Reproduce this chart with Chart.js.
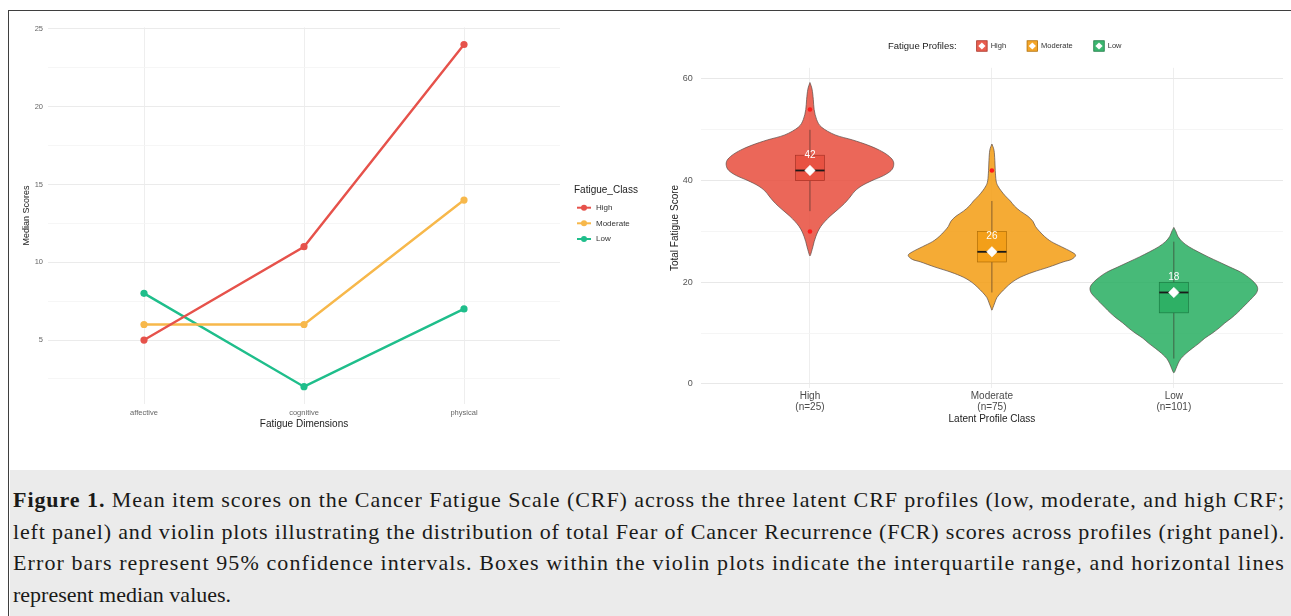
<!DOCTYPE html>
<html>
<head>
<meta charset="utf-8">
<title>Fatigue profiles</title>
<script src="https://cdn.jsdelivr.net/npm/chart.js@4.4.1/dist/chart.umd.min.js"></script>
<style>
  html, body { margin: 0; padding: 0; background: #ffffff; }
  #fig { position: relative; width: 1291px; height: 616px; overflow: hidden; background: #ffffff; }
  #frame { position: absolute; left: 8px; top: 10px; width: 1300px; height: 620px;
           border-left: 1.6px solid #3f3f3f; border-top: 1.6px solid #3f3f3f;
           box-sizing: border-box; pointer-events: none; z-index: 3; }
  #leftChart { position: absolute; left: 0; top: 0; }
  #rightChart { position: absolute; left: 660px; top: 0; }
  #caption { position: absolute; left: 10px; top: 470px; width: 1281px; height: 146px;
             background: #ebebeb; box-sizing: border-box; padding: 14px 6px 0 3px;
             font-family: 'Liberation Serif', 'Times New Roman', serif; font-size: 22px;
             line-height: 31.7px; color: #1a1a18; }
  #caption .ln { white-space: nowrap; overflow: visible; }
  #caption .ln span { display: inline-block; }
</style>
</head>
<body>
<div id="fig">
  <canvas id="leftChart" width="660" height="440"></canvas>
  <canvas id="rightChart" width="631" height="440"></canvas>
  <div id="frame"></div>
  <div id="caption">
    <div class="ln fit"><span><b>Figure 1.</b> Mean item scores on the Cancer Fatigue Scale (CRF) across the three latent CRF profiles (low, moderate, and high CRF;</span></div>
    <div class="ln fit"><span>left panel) and violin plots illustrating the distribution of total Fear of Cancer Recurrence (FCR) scores across profiles (right panel).</span></div>
    <div class="ln fit"><span>Error bars represent 95% confidence intervals. Boxes within the violin plots indicate the interquartile range, and horizontal lines</span></div>
    <div class="ln"><span>represent median values.</span></div>
  </div>
</div>
<script>
// ---------- Left panel: median scores per fatigue dimension ----------
const dimensions = ['affective', 'cognitive', 'physical'];
const fatigueClasses = ['High', 'Moderate', 'Low'];
const highMedians = [5, 11, 24];
const moderateMedians = [6, 6, 14];
const lowMedians = [8, 2, 7];
const medianTickValues = [2.5, 5, 7.5, 10, 12.5, 15, 17.5, 20, 22.5, 25];

// ---------- Right panel: total fatigue score by latent profile ----------
const profiles = ['High', 'Moderate', 'Low'];
const profileCounts = [25, 75, 101];
const scoreTickValues = [0, 10, 20, 30, 40, 50, 60];
const boxQ1 = [40, 24, 14];
const boxMedian = [42, 26, 18];
const boxQ3 = [45, 30, 20];
const whiskerLow = [34, 18, 5];
const whiskerHigh = [50, 36, 28];
const outlierHigh = [54, 30];
const outlierModerate = [42];
const outlierLow = [];

// Violin outlines: [score, relative density] from top tip to bottom tip
const highViolin = [
  [59.3, 0], [58, 0.025], [56, 0.04], [54, 0.05], [52, 0.08], [50.5, 0.14], [49, 0.3],
  [48, 0.51], [47, 0.69], [46, 0.83], [45, 0.93], [44, 0.99], [43, 1.0], [42, 0.97],
  [41, 0.88], [40, 0.74], [39, 0.62], [38, 0.54], [37, 0.49], [36, 0.44], [35, 0.38],
  [34, 0.31], [33, 0.24], [32, 0.18], [31, 0.13], [30, 0.095], [29, 0.07], [28, 0.05],
  [27, 0.035], [26, 0.018], [25.2, 0]
];
const moderateViolin = [
  [47.2, 0], [46, 0.025], [44, 0.035], [42, 0.04], [40, 0.05], [39, 0.07], [38, 0.11],
  [37, 0.16], [36, 0.22], [35, 0.27], [34, 0.34], [33, 0.43], [32, 0.49], [31, 0.52],
  [30, 0.57], [29, 0.63], [28, 0.71], [27, 0.83], [26, 0.95], [25.3, 1.0], [24.5, 0.95],
  [24, 0.85], [23, 0.68], [22, 0.49], [21, 0.34], [20, 0.24], [19, 0.17], [18, 0.11],
  [17, 0.06], [16, 0.035], [15, 0.012], [14.5, 0]
];
const lowViolin = [
  [30.8, 0], [30, 0.025], [29, 0.05], [28, 0.1], [27, 0.18], [26, 0.29], [25, 0.41],
  [24, 0.54], [23, 0.67], [22, 0.8], [21, 0.89], [20, 0.96], [19, 1.0], [18, 0.99],
  [17, 0.94], [16, 0.88], [15, 0.82], [14, 0.76], [13, 0.69], [12, 0.61], [11, 0.54],
  [10, 0.46], [9, 0.37], [8, 0.3], [7, 0.22], [6, 0.145], [5, 0.085], [4, 0.05],
  [3, 0.025], [2.2, 0]
];

const lineColors = ['#E6524B', '#F7B84B', '#1FBE8B'];
const profileColors = ['#E74C3C', '#F39C12', '#27AE60'];
const boxEdgeColors = ['#A83226', '#B06E08', '#1B7A43'];

Chart.defaults.font.family = "'Liberation Sans', Arial, Helvetica, sans-serif";
Chart.defaults.animation = false;

function rgba(hex, a) {
  const n = parseInt(hex.slice(1), 16);
  return `rgba(${(n >> 16) & 255},${(n >> 8) & 255},${n & 255},${a})`;
}

// Spread each full caption line evenly across the caption width
function fitCaption() {
  document.querySelectorAll('#caption .ln.fit').forEach(el => {
    const span = el.querySelector('span');
    span.style.letterSpacing = '0px';
    const natural = span.getBoundingClientRect().width;
    const target = el.clientWidth;
    const chars = span.textContent.length;
    span.style.letterSpacing = ((target - natural) / chars) + 'px';
  });
}
fitCaption();
if (document.fonts && document.fonts.ready) document.fonts.ready.then(fitCaption);

// ---------- Left chart ----------
const leftSeries = [highMedians, moderateMedians, lowMedians];

const leftTextPlugin = {
  id: 'leftText',
  afterDraw(chart) {
    const { ctx, chartArea } = chart;
    ctx.save();
    ctx.fillStyle = '#222';
    ctx.textAlign = 'center';
    ctx.textBaseline = 'middle';
    ctx.font = "10px 'Liberation Sans', Arial, sans-serif";
    ctx.fillText('Fatigue Dimensions', (chartArea.left + chartArea.right) / 2, 424.7);
    ctx.save();
    ctx.translate(27, (chartArea.top + chartArea.bottom) / 2);
    ctx.rotate(-Math.PI / 2);
    ctx.font = "9px 'Liberation Sans', Arial, sans-serif";
    ctx.fillText('Median Scores', 0, 0);
    ctx.restore();
    // legend
    ctx.textAlign = 'left';
    ctx.font = "10px 'Liberation Sans', Arial, sans-serif";
    ctx.fillStyle = '#222';
    ctx.fillText('Fatigue_Class', 574, 190);
    const rows = [207.7, 223.3, 239];
    fatigueClasses.forEach((name, i) => {
      const yy = rows[i];
      ctx.strokeStyle = lineColors[i];
      ctx.lineWidth = 2;
      ctx.beginPath();
      ctx.moveTo(577, yy);
      ctx.lineTo(591, yy);
      ctx.stroke();
      ctx.fillStyle = lineColors[i];
      ctx.beginPath();
      ctx.arc(584, yy, 3, 0, Math.PI * 2);
      ctx.fill();
      ctx.fillStyle = '#333';
      ctx.font = "8px 'Liberation Sans', Arial, sans-serif";
      ctx.fillText(name, 596, yy);
    });
    ctx.restore();
  }
};

new Chart(document.getElementById('leftChart'), {
  type: 'line',
  data: {
    datasets: fatigueClasses.map((name, i) => ({
      label: name,
      data: dimensions.map((d, j) => ({ x: j + 1, y: leftSeries[i][j] })),
      borderColor: lineColors[i],
      backgroundColor: lineColors[i],
      borderWidth: 2.4,
      pointRadius: 3.6,
      pointBorderWidth: 0,
      tension: 0
    }))
  },
  options: {
    responsive: false,
    layout: { padding: { left: 8, top: 27.4, right: 100, bottom: 0 } },
    plugins: { legend: { display: false }, tooltip: { enabled: false } },
    scales: {
      x: {
        type: 'linear', min: 0.4, max: 3.6,
        afterBuildTicks: s => { s.ticks = dimensions.map((d, j) => ({ value: j + 1 })); },
        afterFit: s => { s.height = 36.2; s.paddingLeft = 0; s.paddingRight = 0; },
        ticks: {
          autoSkip: false, maxRotation: 0, padding: 5,
          color: '#666', font: { size: 7.5 },
          callback: v => dimensions[Math.round(v) - 1]
        },
        grid: { color: '#eeeeee', lineWidth: 1, drawTicks: false },
        border: { display: false }
      },
      y: {
        type: 'linear', min: 0.9, max: 25.1,
        afterBuildTicks: s => { s.ticks = medianTickValues.map(v => ({ value: v })); },
        afterFit: s => { s.width = 40; s.paddingTop = 0; s.paddingBottom = 0; },
        ticks: {
          autoSkip: false, padding: 5, color: '#666', font: { size: 7.5 },
          callback: v => (v % 5 === 0 ? String(v) : '')
        },
        grid: {
          drawTicks: false,
          color: c => (c.tick && c.tick.value % 5 === 0 ? '#ebebeb' : '#f4f4f4'),
          lineWidth: c => (c.tick && c.tick.value % 5 === 0 ? 1 : 0.8)
        },
        border: { display: false }
      }
    }
  },
  plugins: [leftTextPlugin]
});

// ---------- Right chart ----------
const violinShapes = [highViolin, moderateViolin, lowViolin];
const outlierSets = [outlierHigh, outlierModerate, outlierLow];
const VIOLIN_HALF = 0.46;   // category units at density 1
const BOX_HALF = 0.08;      // category units
const LABEL_OFFSET = 3;     // score units above the median

function smoothThrough(ctx, pts) {
  for (let i = 0; i < pts.length - 1; i++) {
    const p0 = pts[i - 1] || pts[i];
    const p1 = pts[i];
    const p2 = pts[i + 1];
    const p3 = pts[i + 2] || p2;
    const c1x = p1[0] + (p2[0] - p0[0]) / 6, c1y = p1[1] + (p2[1] - p0[1]) / 6;
    const c2x = p2[0] - (p3[0] - p1[0]) / 6, c2y = p2[1] - (p3[1] - p1[1]) / 6;
    ctx.bezierCurveTo(c1x, c1y, c2x, c2y, p2[0], p2[1]);
  }
}

const violinPlugin = {
  id: 'violins',
  beforeDatasetsDraw(chart) {
    const { ctx, scales: { x, y } } = chart;
    ctx.save();
    profiles.forEach((p, i) => {
      const c = i + 1;
      const shape = violinShapes[i];
      const right = shape.map(([v, d]) => [x.getPixelForValue(c + d * VIOLIN_HALF), y.getPixelForValue(v)]);
      const left = shape.slice().reverse().map(([v, d]) => [x.getPixelForValue(c - d * VIOLIN_HALF), y.getPixelForValue(v)]);
      const outline = right.concat(left.slice(1));
      ctx.beginPath();
      ctx.moveTo(outline[0][0], outline[0][1]);
      smoothThrough(ctx, outline);
      ctx.closePath();
      ctx.fillStyle = rgba(profileColors[i], 0.85);
      ctx.fill();
      ctx.strokeStyle = '#5a4a46';
      ctx.lineWidth = 0.7;
      ctx.stroke();

      // whiskers
      const cx = x.getPixelForValue(c);
      ctx.strokeStyle = rgba('#3a2a26', 0.75);
      ctx.lineWidth = 0.8;
      ctx.beginPath();
      ctx.moveTo(cx, y.getPixelForValue(whiskerHigh[i]));
      ctx.lineTo(cx, y.getPixelForValue(boxQ3[i]));
      ctx.moveTo(cx, y.getPixelForValue(boxQ1[i]));
      ctx.lineTo(cx, y.getPixelForValue(whiskerLow[i]));
      ctx.stroke();

      // box
      const bx0 = x.getPixelForValue(c - BOX_HALF);
      const bx1 = x.getPixelForValue(c + BOX_HALF);
      const by0 = y.getPixelForValue(boxQ3[i]);
      const by1 = y.getPixelForValue(boxQ1[i]);
      ctx.fillStyle = rgba(profileColors[i], 0.75);
      ctx.fillRect(bx0, by0, bx1 - bx0, by1 - by0);
      ctx.strokeStyle = boxEdgeColors[i];
      ctx.lineWidth = 0.7;
      ctx.strokeRect(bx0, by0, bx1 - bx0, by1 - by0);

      // median line
      const my = y.getPixelForValue(boxMedian[i]);
      ctx.strokeStyle = '#1a1a1a';
      ctx.lineWidth = 1.8;
      ctx.beginPath();
      ctx.moveTo(bx0, my);
      ctx.lineTo(bx1, my);
      ctx.stroke();
    });
    ctx.restore();
  },
  afterDatasetsDraw(chart) {
    const { ctx, scales: { x, y } } = chart;
    ctx.save();
    ctx.fillStyle = '#ffffff';
    ctx.font = "10px 'Liberation Sans', Arial, sans-serif";
    ctx.textAlign = 'center';
    ctx.textBaseline = 'middle';
    profiles.forEach((p, i) => {
      ctx.fillText(String(boxMedian[i]), x.getPixelForValue(i + 1), y.getPixelForValue(boxMedian[i] + LABEL_OFFSET));
    });
    ctx.restore();
  },
  afterDraw(chart) {
    const { ctx, chartArea } = chart;
    ctx.save();
    ctx.fillStyle = '#222';
    ctx.textBaseline = 'middle';
    ctx.textAlign = 'center';
    ctx.font = "10px 'Liberation Sans', Arial, sans-serif";
    ctx.fillText('Latent Profile Class', (chartArea.left + chartArea.right) / 2, 419);
    ctx.save();
    ctx.translate(15, 228);
    ctx.rotate(-Math.PI / 2);
    ctx.fillText('Total Fatigue Score', 0, 0);
    ctx.restore();

    // legend on top
    ctx.textAlign = 'left';
    let lx = 228;
    const ly = 46;
    ctx.font = "9.5px 'Liberation Sans', Arial, sans-serif";
    ctx.fillStyle = '#222';
    ctx.fillText('Fatigue Profiles:', lx, ly);
    lx += ctx.measureText('Fatigue Profiles:').width + 20;
    profiles.forEach((p, i) => {
      const s = 10.5;
      ctx.fillStyle = rgba(profileColors[i], 0.9);
      ctx.fillRect(lx, ly - s / 2, s, s);
      ctx.strokeStyle = boxEdgeColors[i];
      ctx.lineWidth = 0.8;
      ctx.strokeRect(lx, ly - s / 2, s, s);
      const dcx = lx + s / 2, d = 3.6;
      ctx.fillStyle = '#ffffff';
      ctx.beginPath();
      ctx.moveTo(dcx, ly - d); ctx.lineTo(dcx + d, ly); ctx.lineTo(dcx, ly + d); ctx.lineTo(dcx - d, ly);
      ctx.closePath();
      ctx.fill();
      lx += s + 3.5;
      ctx.fillStyle = '#333';
      ctx.font = "7.5px 'Liberation Sans', Arial, sans-serif";
      ctx.fillText(p, lx, ly);
      lx += ctx.measureText(p).width + 21;
    });
    ctx.restore();
  }
};

new Chart(document.getElementById('rightChart'), {
  type: 'scatter',
  data: {
    datasets: [
      {
        label: 'outliers',
        data: outlierSets.flatMap((vals, i) => vals.map(v => ({ x: i + 1, y: v }))),
        pointStyle: 'circle',
        pointRadius: 2.3,
        pointBorderWidth: 0,
        backgroundColor: '#ff1a1a'
      },
      {
        label: 'medians',
        data: boxMedian.map((v, i) => ({ x: i + 1, y: v })),
        pointStyle: 'rectRot',
        pointRadius: 5.2,
        pointBorderWidth: 0.6,
        borderColor: '#ffffff',
        backgroundColor: '#ffffff'
      }
    ]
  },
  options: {
    responsive: false,
    layout: { padding: { left: 10.8, top: 67.8, right: 8, bottom: 0 } },
    plugins: { legend: { display: false }, tooltip: { enabled: false } },
    scales: {
      x: {
        type: 'linear', min: 0.4, max: 3.6,
        afterBuildTicks: s => { s.ticks = profiles.map((p, j) => ({ value: j + 1 })); },
        afterFit: s => { s.height = 51.6; s.paddingLeft = 0; s.paddingRight = 0; },
        ticks: {
          autoSkip: false, maxRotation: 0, padding: 2,
          color: '#4a4a4a', font: { size: 10, lineHeight: 1.15 },
          callback: v => {
            const j = Math.round(v) - 1;
            return [profiles[j], `(n=${profileCounts[j]})`];
          }
        },
        grid: { color: '#eeeeee', lineWidth: 1, drawTicks: false },
        border: { display: false }
      },
      y: {
        type: 'linear', min: -0.87, max: 62.2,
        afterBuildTicks: s => { s.ticks = scoreTickValues.map(v => ({ value: v })); },
        afterFit: s => { s.width = 30; s.paddingTop = 0; s.paddingBottom = 0; },
        ticks: {
          autoSkip: false, padding: 8, color: '#555', font: { size: 9 },
          callback: v => (v % 20 === 0 ? String(v) : '')
        },
        grid: {
          drawTicks: false,
          color: c => (c.tick && c.tick.value % 20 === 0 ? '#e8e8e8' : '#f3f3f3'),
          lineWidth: c => (c.tick && c.tick.value % 20 === 0 ? 1 : 0.8)
        },
        border: { display: false }
      }
    }
  },
  plugins: [violinPlugin]
});
</script>
</body>
</html>
